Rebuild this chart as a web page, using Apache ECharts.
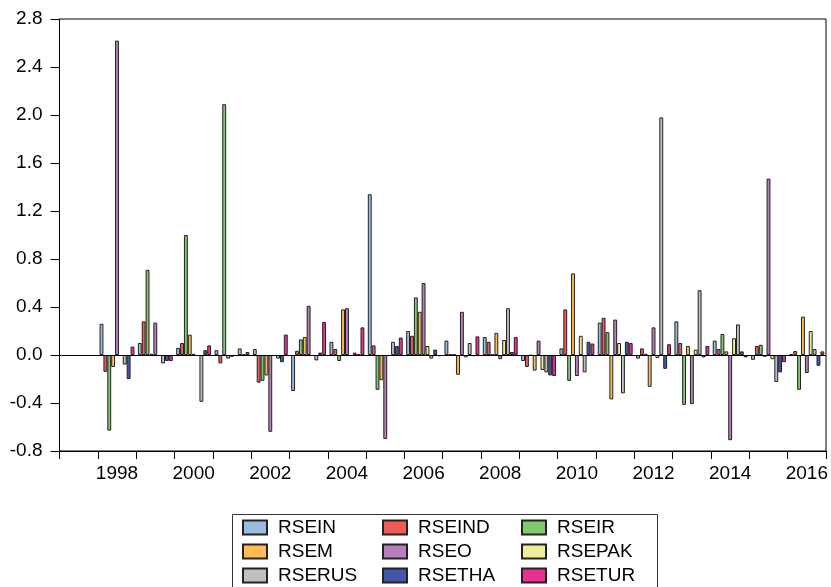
<!DOCTYPE html>
<html>
<head>
<meta charset="utf-8">
<script src="https://cdn.jsdelivr.net/npm/echarts@6/dist/echarts.min.js"></script>
<style>
html,body{margin:0;padding:0;background:#fff;}
#chart{width:831px;height:587px;}
</style>
</head>
<body>
<div id="chart"></div>
<script>
var years = [1997,1998,1999,2000,2001,2002,2003,2004,2005,2006,2007,2008,2009,2010,2011,2012,2013,2014,2015,2016];
var yTicks = [-0.8,-0.4,0.0,0.4,0.8,1.2,1.6,2.0,2.4,2.8];

var RSEIN  = [null, 0.26, 0.10, 0.06, 0.04, 0.05, -0.30, 0.11, 1.34, 0.20, 0.12, 0.15, -0.05, 0.055, 0.27, -0.03, 0.28, 0.12, -0.04, 0.005];
var RSEIND = [null, -0.14, 0.28, 0.10, -0.07, -0.23, 0.035, 0.05, 0.08, 0.16, 0.005, 0.11, -0.10, 0.38, 0.31, 0.055, 0.10, 0.05, 0.075, 0.033];
var RSEIR  = [null, -0.63, 0.71, 1.00, 2.09, -0.215, 0.13, -0.05, -0.29, 0.48, 0.004, 0.003, -0.005, -0.215, 0.19, 0.01, -0.415, 0.175, 0.085, -0.29];
var RSEM   = [null, -0.10, 0.01, 0.17, -0.03, -0.17, 0.15, 0.38, -0.21, 0.36, -0.165, 0.185, -0.13, 0.68, -0.37, -0.265, 0.075, 0.03, -0.015, 0.32];
var RSEO   = [null, 2.62, 0.27, 0.01, -0.015, -0.64, 0.41, 0.39, -0.70, 0.60, 0.36, -0.035, 0.12, -0.175, 0.295, 0.23, -0.41, -0.71, 1.47, -0.15];
var RSEPAK = [null, null, null, null, null, null, null, null, null, 0.075, -0.02, 0.125, -0.125, 0.16, 0.10, -0.025, 0.045, 0.14, -0.035, 0.20];
var RSERUS = [null, -0.08, -0.07, -0.39, 0.055, -0.03, -0.045, 0.02, 0.11, -0.03, 0.10, 0.39, -0.145, -0.145, -0.32, 1.98, 0.54, 0.255, -0.225, 0.05];
var RSETHA = [null, -0.20, -0.05, 0.04, 0.004, -0.06, 0.02, 0.005, 0.075, 0.045, -0.01, 0.025, -0.17, 0.11, 0.11, -0.115, -0.02, 0.03, -0.145, -0.09];
var RSETUR = [null, 0.07, -0.05, 0.08, 0.025, 0.17, 0.275, 0.23, 0.145, -0.01, 0.155, 0.15, -0.175, 0.095, 0.10, 0.09, 0.075, -0.02, -0.06, 0.03];

var seriesNames = ['RSEIN','RSEIND','RSEIR','RSEM','RSEO','RSEPAK','RSERUS','RSETHA','RSETUR'];
var seriesData = [RSEIN, RSEIND, RSEIR, RSEM, RSEO, RSEPAK, RSERUS, RSETHA, RSETUR];
var colors = ['#99BBE0','#F05A5A','#80C870','#FFBB55','#B780BB','#EEEE99','#C0C0C0','#4455AA','#E8308E'];

var FONT = "'Liberation Sans', Arial, sans-serif";

var series = seriesNames.map(function(n, i){
  var s = {
    name: n,
    type: 'bar',
    data: seriesData[i],
    barGap: '0%',
    barCategoryGap: '9%',
    itemStyle: {color: colors[i], borderColor: '#222', borderWidth: 1},
    emphasis: {disabled: true},
    animation: false
  };
  if (i === 0) {
    s.markLine = {
      silent: true, symbol: ['none','none'], animation: false,
      label: {show: false},
      lineStyle: {color: '#000', width: 1, type: 'solid'},
      data: [{yAxis: 0}]
    };
  }
  return s;
});

function legendCol(left, names) {
  return {
    orient: 'vertical', left: left, top: 518, padding: 0,
    itemWidth: 24, itemHeight: 14, itemGap: 5,
    icon: 'rect',
    selectedMode: false,
    textStyle: {fontFamily: FONT, fontSize: 19, color: '#000', lineHeight: 19, padding: [0,0,0,6]},
    data: names
  };
}

var chart = echarts.init(document.getElementById('chart'), null, {renderer: 'canvas'});
chart.setOption({
  backgroundColor: '#fff',
  animation: false,
  color: colors,
  grid: {left: 59.5, right: 5, top: 19, bottom: 136, show: true, borderColor: '#000', borderWidth: 1, containLabel: false},
  legend: [
    legendCol(242, ['RSEIN','RSEM','RSERUS']),
    legendCol(382, ['RSEIND','RSEO','RSETHA']),
    legendCol(521, ['RSEIR','RSEPAK','RSETUR'])
  ],
  graphic: [{
    type: 'rect', left: 230, top: 512, silent: true,
    shape: {width: 425, height: 100},
    style: {fill: 'none', stroke: '#333', lineWidth: 1}
  }],
  xAxis: {
    type: 'category',
    data: years,
    boundaryGap: true,
    axisLine: {onZero: false, lineStyle: {color: '#000', width: 1}},
    axisTick: {show: true, interval: 0, length: 8, inside: false, lineStyle: {color: '#000'}},
    axisLabel: {
      interval: function(idx, val){ return Number(val) % 2 === 0; },
      fontFamily: FONT, fontSize: 19, color: '#000', margin: 13
    },
    splitLine: {show: false}
  },
  yAxis: {
    type: 'value',
    min: -0.8, max: 2.8, interval: 0.4,
    axisLine: {show: true, lineStyle: {color: '#000', width: 1}},
    axisTick: {show: true, length: 9, inside: false, lineStyle: {color: '#000'}},
    axisLabel: {
      fontFamily: FONT, fontSize: 19, color: '#000', margin: 17,
      formatter: function(v){ if (Math.abs(v) < 1e-9) return '0.0'; return v.toFixed(1); }
    },
    splitLine: {show: false}
  },
  series: series
});
</script>
</body>
</html>
